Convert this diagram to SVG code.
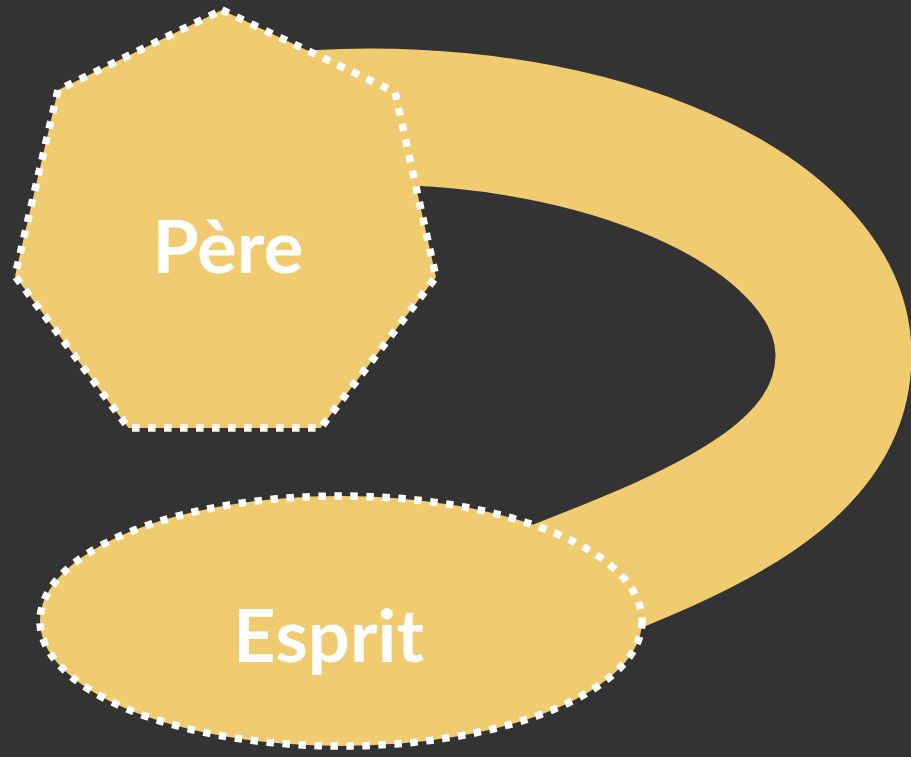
<svg xmlns="http://www.w3.org/2000/svg" width="911" height="757" viewBox="0 0 911 757">
  <style>
    .bg { fill: #333333; }
    .node { fill: #F0CB70; stroke: #FFFFFF; stroke-width: 7.5; stroke-dasharray: 7.5 8.5; }
    .label { fill: #FFFFFF; font-family: Lato, "Open Sans", "Liberation Sans", sans-serif; font-weight: bold; font-size: 72px; text-anchor: middle; }
    .link { fill: none; stroke: #F0CB70; stroke-width: 136; stroke-linecap: butt; }
  </style>
  <rect class="bg" x="0" y="0" width="911" height="757"/>
  <g id="connectors">
    <path class="link" d="M 260.3 123 A 473.5 238.5 0 0 1 843.5 355 C 843.5 495 646.8 549.4 499.4 611.8"/>
  </g>
  <g id="pere">
    <polygon class="node" points="222,10 395,92 436,277 320.5,428 128.5,428 15,276 58,90"/>
    <text class="label" x="228" y="273" textLength="151" lengthAdjust="spacingAndGlyphs">Père</text>
  </g>
  <g id="esprit">
    <ellipse class="node" cx="341" cy="621" rx="301" ry="125"/>
    <text class="label" x="328.5" y="662" textLength="191" lengthAdjust="spacingAndGlyphs">Esprit</text>
  </g>
</svg>
